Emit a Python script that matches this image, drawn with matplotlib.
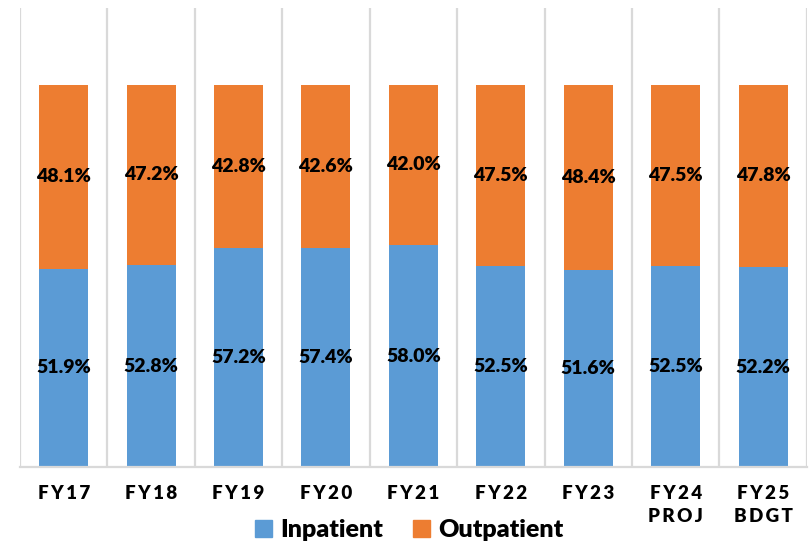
import numpy as np
import matplotlib.pyplot as plt
from matplotlib.patches import Patch

# Share of patient revenue by fiscal year
years = ['FY17', 'FY18', 'FY19', 'FY20', 'FY21', 'FY22', 'FY23', 'FY24\nPROJ', 'FY25\nBDGT']
inpatient = [51.9, 52.8, 57.2, 57.4, 58.0, 52.5, 51.6, 52.5, 52.2]
outpatient = [48.1, 47.2, 42.8, 42.6, 42.0, 47.5, 48.4, 47.5, 47.8]

blue = '#5B9BD5'
orange = '#ED7D31'
fonts = ['Lato', 'DejaVu Sans']


def spaced(s):
    # widen the tick labels a little
    return '\n'.join('\u2009'.join(line) for line in s.split('\n'))


fig = plt.figure(figsize=(8.1, 5.45), dpi=100)
ax = fig.add_axes([0.0247, 0.1431, 0.9713, 0.842])

x = np.arange(len(years))
inp = np.array(inpatient) / 100
outp = np.array(outpatient) / 100
ax.bar(x, inp, width=0.56, color=blue, zorder=2)
ax.bar(x, outp, width=0.56, bottom=inp, color=orange, zorder=2)

for xi, a, b in zip(x, inpatient, outpatient):
    ax.text(xi, a / 200, f'{a:.1f}%', ha='center', va='center',
            fontsize=14, fontweight='heavy', family=fonts, zorder=3)
    ax.text(xi, a / 100 + b / 200, f'{b:.1f}%', ha='center', va='center',
            fontsize=14, fontweight='heavy', family=fonts, zorder=3)

# category separators
for b in np.arange(-0.5, len(years), 1.0):
    ax.axvline(b, color='#D9D9D9', lw=1.6, zorder=1)

ax.set_xlim(-0.5, len(years) - 0.5)
ax.set_ylim(0, 1.2)
ax.set_yticks([])
ax.set_xticks(x)
ax.set_xticklabels([spaced(y) for y in years], fontsize=13.5, fontweight='heavy',
                   family=fonts, linespacing=1.45, va='top')
ax.tick_params(axis='x', length=0, pad=13)
for side in ['top', 'left', 'right']:
    ax.spines[side].set_visible(False)
ax.spines['bottom'].set_color('#D9D9D9')
ax.spines['bottom'].set_linewidth(1.6)

handles = [Patch(color=blue, label='Inpatient'), Patch(color=orange, label='Outpatient')]
fig.legend(handles=handles, loc='center', bbox_to_anchor=(0.505, 0.027), ncol=2,
           frameon=False, prop={'family': fonts, 'weight': 'heavy', 'size': 18},
           handlelength=0.7, handleheight=0.7, handletextpad=0.3, columnspacing=1.2)

fig.savefig('out.png', dpi=100)
